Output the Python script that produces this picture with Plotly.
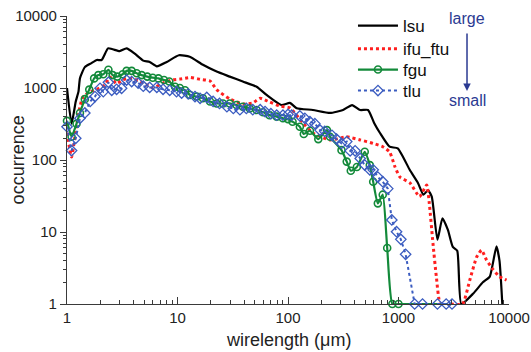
import plotly.graph_objects as go

# ---------------- data ----------------
lsu_x = [1.0, 1.1, 1.2, 1.27, 1.31, 1.45, 1.65, 1.86, 2.06, 2.35, 2.6, 3.0, 3.46, 4.1, 4.9,
         5.6, 6.5, 8.0, 10.3, 12.9, 17, 22.6, 29.7, 39, 52, 64, 87, 104, 120, 168, 240,
         315, 380, 450, 530, 600, 680, 830, 985, 1270, 1500, 1680, 1850, 2000, 2250, 2500,
         2800, 3100, 3400, 3700, 4750, 5800, 6700, 7700, 8200, 8700]
lsu_y = [1000, 320, 650, 890, 1370, 1950, 2200, 2450, 2450, 3550, 3450, 3250, 3550, 3000, 2400,
         2300, 2000, 2300, 2850, 2720, 2100, 1690, 1440, 1230, 1040, 800, 580, 620, 525, 495, 450,
         495, 580, 495, 495, 330, 237, 153, 145, 72, 48, 33, 38, 31, 7.8, 15.5,
         10.7, 6.2, 5.5, 1.0, 1.4, 2.0, 2.4, 6.3, 4.0, 1.0]

ifu_x = [1.0, 1.1, 1.22, 1.31, 1.4, 1.62, 1.86, 2.2, 2.45, 2.8, 3.2, 3.7, 4.5, 5.3, 6.0, 7.4,
         9.1, 10.5, 13, 16, 19.7, 22.6, 30, 39, 48, 56, 68, 85, 104, 137, 168, 240, 340, 450,
         590, 720, 830, 930, 1030, 1270, 1550, 1800, 1900, 2050, 2200, 2400, 3000, 3800,
         4400, 5100, 5650, 6250, 7200, 8200, 9500]
ifu_y = [240, 110, 306, 550, 760, 890, 960, 1100, 1420, 1150, 1300, 1370, 1250, 1100, 1000, 1170,
         1300, 1330, 1400, 1320, 1250, 950, 700, 600, 620, 720, 640, 560, 530, 325, 237, 190, 210, 190,
         170, 153, 130, 80, 58, 48, 31, 45, 25, 7, 2.4, 1.0, 1.0, 1.0,
         2.1, 4.5, 5.6, 4.1, 3.0, 2.4, 2.15]

fgu_x = [1.0, 1.1, 1.22, 1.31, 1.45, 1.59, 1.76, 1.92, 2.13, 2.37, 2.59, 2.85, 3.19, 3.46, 3.85,
         4.27, 4.74, 5.33, 5.97, 6.72, 7.55, 8.43, 9.5, 10.5, 11.7, 13, 14.9, 17, 19.7, 22.6,
         25.8, 29.7, 34.2, 39, 45, 52, 59.5, 68, 79, 90, 100, 110, 128, 139, 158, 188, 225, 240,
         305, 340, 370, 420, 495, 550, 590, 650, 720, 790, 880, 1000]
fgu_y = [350, 210, 320, 450, 700, 950, 1360, 1510, 1550, 1790, 1510, 1440, 1550, 1730, 1730,
         1600, 1510, 1440, 1390, 1360, 1290, 1230, 1040, 1000, 930, 800, 760, 720, 650, 610,
         610, 610, 580, 550, 520, 495, 460, 420, 400, 380, 370, 340, 290, 230, 255, 195, 260, 210,
         137, 95, 71, 80, 130, 85, 50, 25, 33, 6, 1, 1]
fgu_tail_x = [1000, 2800]
fgu_tail_y = [1, 1]

tlu_x = [1.0, 1.1, 1.2, 1.31, 1.45, 1.62, 1.79, 1.99, 2.13, 2.37, 2.54, 2.81, 3.12, 3.46, 3.85,
         4.4, 4.9, 5.6, 6.5, 7.4, 8.5, 9.8, 10.9, 12.5, 14.4, 16, 18.4, 21, 24, 28, 32, 36.7, 42,
         48, 56, 62, 70, 79, 90, 100, 108, 128, 142, 158, 175, 195, 215, 250, 275, 305, 340, 365,
         405, 450, 495, 550, 590, 650, 720, 800, 870, 960, 1050, 1160, 1400, 1650, 2250, 2700, 3050]
tlu_y = [290, 135, 200, 380, 450, 650, 760, 990, 890, 1200, 930, 960, 990, 1290, 1230,
         1170, 1060, 1020, 1020, 960, 930, 890, 850, 830, 760, 720, 740, 650, 610, 550, 520, 500, 520,
         500, 500, 470, 440, 420, 420, 430, 420, 410, 380, 340, 320, 260, 250, 220, 195, 170, 180, 134,
         134, 105, 85, 73, 73, 58, 50, 40, 14.7, 10.1, 7.9, 4.9, 1, 1, 1, 1, 1]

tick_vals = [1, 10, 100, 1000, 10000]
tick_text = ["1", "10", "100", "1000", "10000"]

# ---------------- figure ----------------
FONT = "Liberation Sans, Arial, sans-serif"
GREEN = "#138a3a"
BLUE = "#3b5cc0"
RED = "#ff1f1f"
NAVY = "#2b3a92"
AXIS = "#3a3a3a"

fig = go.Figure()
fig.add_trace(go.Scatter(x=lsu_x, y=lsu_y, name="lsu", mode="lines", legend="legend",
                         line=dict(color="black", width=2.2, shape="spline", smoothing=0.5)))
fig.add_trace(go.Scatter(x=ifu_x, y=ifu_y, name="ifu_ftu", mode="lines", legend="legend2",
                         line=dict(color=RED, width=3, dash="dot", shape="spline", smoothing=0.5)))
fig.add_trace(go.Scatter(x=fgu_x, y=fgu_y, name="fgu", mode="lines+markers", legend="legend3",
                         line=dict(color=GREEN, width=2.2, shape="spline", smoothing=0.5),
                         marker=dict(symbol="circle-open", size=7, color=GREEN, line=dict(width=1.6)),
                         cliponaxis=False))
fig.add_trace(go.Scatter(x=fgu_tail_x, y=fgu_tail_y, mode="lines", showlegend=False,
                         line=dict(color=GREEN, width=2.2)))
fig.add_trace(go.Scatter(x=tlu_x, y=tlu_y, name="tlu", mode="lines+markers", legend="legend4",
                         line=dict(color=BLUE, width=2, dash="dot"),
                         marker=dict(symbol="diamond-open", size=8, color=BLUE, line=dict(width=1.3)),
                         cliponaxis=False))

LEG_X = 0.647
def leg(yc):
    return dict(x=LEG_X, y=yc, xanchor="left", yanchor="middle",
                bgcolor="rgba(0,0,0,0)", font=dict(size=17, color="#111"), itemwidth=40)

fig.update_layout(
    width=531, height=352,
    margin=dict(l=67, r=22, t=16, b=48, autoexpand=False),
    paper_bgcolor="white", plot_bgcolor="white",
    font=dict(family=FONT, size=15, color="#222"),
    showlegend=True,
    legend=leg(0.965), legend2=leg(0.885), legend3=leg(0.8125), legend4=leg(0.7396),
)
fig.update_xaxes(type="log", range=[0, 4], showline=True, linecolor=AXIS, linewidth=1.2,
                 showgrid=False, zeroline=False, mirror=False, automargin=False,
                 tickmode="array", tickvals=tick_vals, ticktext=tick_text,
                 ticks="inside", ticklen=7, tickcolor=AXIS, tickwidth=1.2,
                 minor=dict(ticks="inside", ticklen=4, tickcolor=AXIS, dtick="D1", showgrid=False),
                 tickfont=dict(size=15))
fig.update_yaxes(type="log", range=[0, 4], showline=True, linecolor=AXIS, linewidth=1.2,
                 showgrid=False, zeroline=False, mirror=False, automargin=False,
                 tickmode="array", tickvals=tick_vals, ticktext=tick_text,
                 ticks="outside", ticklen=6, tickcolor=AXIS, tickwidth=1.2,
                 minor=dict(ticks="outside", ticklen=3, tickcolor=AXIS, dtick="D1", showgrid=False),
                 tickfont=dict(size=15))

# axis titles
fig.add_annotation(text="wirelength (\u03bcm)", xref="paper", yref="paper",
                   x=0.5, y=-0.125, xanchor="center", yanchor="middle", showarrow=False,
                   font=dict(size=18, color="#222"))
fig.add_annotation(text="occurrence", xref="paper", yref="paper",
                   x=-0.11, y=0.5, xanchor="center", yanchor="middle", textangle=-90, showarrow=False,
                   font=dict(size=18, color="#222"))

# large -> small arrow
fig.add_annotation(text="large", xref="paper", yref="paper", x=0.905, y=0.99,
                   xanchor="center", yanchor="middle",
                   showarrow=False, font=dict(size=16, color=NAVY))
fig.add_annotation(text="small", xref="paper", yref="paper", x=0.905, y=0.708,
                   xanchor="center", yanchor="middle",
                   showarrow=False, font=dict(size=16, color=NAVY))
fig.add_annotation(text="", xref="paper", yref="paper", x=0.905, y=0.7396,
                   ax=0, ay=-59, showarrow=True, arrowhead=2, arrowsize=1,
                   arrowwidth=1.5, arrowcolor=NAVY)

fig.write_html("out.html")
